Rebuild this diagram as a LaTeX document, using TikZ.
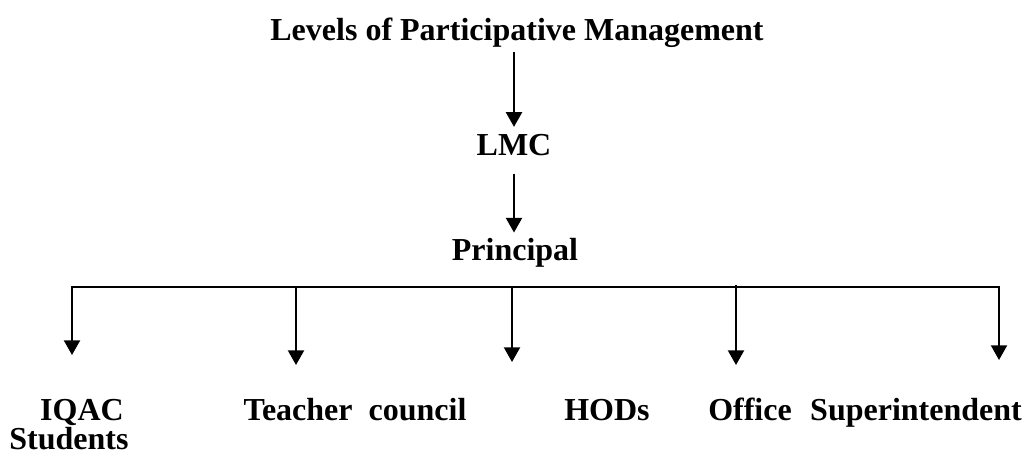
\documentclass[tikz,border=0pt]{standalone}
\usepackage{fontspec}
\setmainfont{Liberation Serif}
\usetikzlibrary{arrows.meta}

\begin{document}
\begin{tikzpicture}
    [x=0.75pt,y=-0.75pt,
     every node/.style={inner sep=0pt, anchor=base, font=\fontsize{24}{28}\selectfont\bfseries},
     arr/.style={-{Triangle[width=12pt,length=11pt]}, line width=1.5pt},
     bus/.style={line width=1.5pt, line cap=rect}]
  \useasboundingbox (0,0) rectangle (1024,457);

  \node (lev) at (517,40) {Levels of Participative Management};
  \node (lmc) at (514,155) {LMC};
  \node (prin) at (515,260) {Principal};

  \draw[arr, shorten <=3.75pt, shorten >=5pt] (lev.south -| lmc.north) -- (lmc.north);
  \draw[arr, shorten <=13.5pt, shorten >=3.75pt] (lmc.south) -- (lmc.south |- prin.north);

  % branch line and drops
  \coordinate (b1) at (72,287);
  \coordinate (b2) at (296,287);
  \coordinate (b3) at (512,287);
  \coordinate (b4) at (736,285);
  \coordinate (b5) at (999,287);
  \coordinate (t1) at (72,355);
  \coordinate (t2) at (296,365);
  \coordinate (t3) at (512,362);
  \coordinate (t4) at (736,365);
  \coordinate (t5) at (999,360);

  \draw[bus] (b1) -- (b5);
  \foreach \from/\to in {b1/t1, b2/t2, b3/t3, b4/t4, b5/t5}
    \draw[arr] (\from) -- (\to);

  \node (iqac) at (82,420) {IQAC};
  \node (stud) at (69,449) {Students};
  \node (tc) at (355,420) {Teacher\ \ council};
  \node (hod) at (607,420) {HODs};
  \node (off) at (750,420) {Office};
  \node (sup) at (916,420) {Superintendent};
\end{tikzpicture}
\end{document}
